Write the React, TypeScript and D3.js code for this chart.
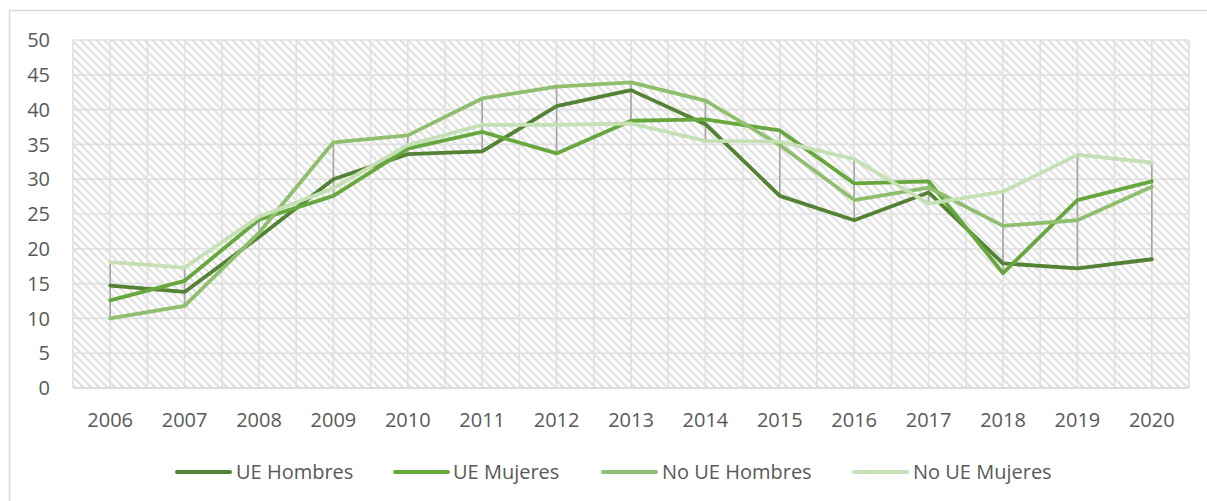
import React from "react";
import * as d3 from "d3";

const years = ["2006","2007","2008","2009","2010","2011","2012","2013","2014","2015","2016","2017","2018","2019","2020"];
const ueHombres = [14.7, 13.8, 21.7, 30.0, 33.6, 34.0, 40.5, 42.8, 37.9, 27.6, 24.1, 28.1, 17.9, 17.2, 18.5];
const ueMujeres = [12.6, 15.4, 24.2, 27.6, 34.4, 36.8, 33.7, 38.4, 38.6, 37.0, 29.4, 29.7, 16.5, 27.0, 29.7];
const noUeHombres = [10.0, 11.8, 22.3, 35.3, 36.3, 41.6, 43.3, 43.9, 41.3, 34.9, 27.0, 28.8, 23.3, 24.1, 28.9];
const noUeMujeres = [18.1, 17.3, 24.6, 28.7, 34.9, 37.8, 37.8, 38.0, 35.5, 35.4, 32.9, 26.5, 28.2, 33.5, 32.4];
const yTicks = [0, 5, 10, 15, 20, 25, 30, 35, 40, 45, 50];

const seriesNames = ["UE Hombres", "UE Mujeres", "No UE Hombres", "No UE Mujeres"];
const seriesData = [ueHombres, ueMujeres, noUeHombres, noUeMujeres];
const colors = ["#548235", "#66a83e", "#8fbf6e", "#c5e0b4"];

const W = 1207, H = 501;
const L = 73, R = 1189, T = 40, B = 388;
const FONT = "'Open Sans', 'Noto Sans', sans-serif";

export default function App() {
  const xBand = d3.scaleBand<string>().domain(years).range([L, R]).padding(0);
  const xc = (i: number) => (xBand(years[i]) as number) + xBand.bandwidth() / 2;
  const y = d3.scaleLinear().domain([0, 50]).range([B, T]);
  const line = d3.line<number>().x((_, i) => xc(i)).y((v) => y(v));

  const vGrid: number[] = [];
  for (let k = 0; k <= years.length * 2; k++) vGrid.push(L + (k * (R - L)) / (years.length * 2));

  const legendItems = [
    { x1: 177, tx: 236 },
    { x1: 395, tx: 453 },
    { x1: 603, tx: 662 },
    { x1: 854, tx: 913 },
  ];
  const legY = 472;

  return (
    <svg width={W} height={H} style={{ position: "absolute", left: 0, top: 0, background: "#fff" }}>
      <defs>
        <pattern id="hatch" patternUnits="userSpaceOnUse" width="8" height="8">
          <rect width="8" height="8" fill="#ffffff" />
          <path d="M-2,-2 L10,10 M-2,6 L2,10 M6,-2 L10,2" stroke="#e3e3e3" strokeWidth="2.4" />
        </pattern>
      </defs>
      <rect x={0} y={0} width={W} height={H} fill="#fff" />
      <path d={`M9.5,${H} L9.5,10.5 L${W},10.5`} fill="none" stroke="#d9d9d9" strokeWidth={1.5} />
      <rect x={L} y={T} width={R - L} height={B - T} fill="url(#hatch)" />
      {vGrid.map((gx, i) => (
        <line key={"v" + i} x1={gx} x2={gx} y1={T} y2={B} stroke="#e0e0e0" strokeWidth={1.6} />
      ))}
      {yTicks.map((t) => (
        <line key={"h" + t} x1={L} x2={R} y1={y(t)} y2={y(t)} stroke="#e0e0e0" strokeWidth={1.6} />
      ))}
      <line x1={L} x2={R} y1={B} y2={B} stroke="#d9d9d9" strokeWidth={1.6} />
      {yTicks.map((t) => (
        <text key={"yl" + t} x={50} y={y(t)} dy="0.36em" textAnchor="end" fontFamily={FONT} fontSize={20} fill="#595959">
          {t}
        </text>
      ))}
      {years.map((yr, i) => (
        <text key={"xl" + yr} x={xc(i)} y={427} textAnchor="middle" fontFamily={FONT} fontSize={20} fill="#595959">
          {yr}
        </text>
      ))}
      {years.map((yr, i) => {
        const vals = seriesData.map((s) => s[i]);
        return (
          <line key={"hl" + yr} x1={xc(i)} x2={xc(i)} y1={y(d3.max(vals) as number)} y2={y(d3.min(vals) as number)} stroke="#a6a6a6" strokeWidth={1.6} />
        );
      })}
      {seriesData.map((s, k) => (
        <path key={"s" + k} d={line(s) as string} fill="none" stroke={colors[k]} strokeWidth={3.8} strokeLinejoin="round" strokeLinecap="round" />
      ))}
      {legendItems.map((it, k) => (
        <g key={"lg" + k}>
          <line x1={it.x1} x2={it.x1 + 53} y1={legY} y2={legY} stroke={colors[k]} strokeWidth={4} strokeLinecap="round" />
          <text x={it.tx} y={legY} dy="0.36em" fontFamily={FONT} fontSize={20} fill="#595959">
            {seriesNames[k]}
          </text>
        </g>
      ))}
    </svg>
  );
}
